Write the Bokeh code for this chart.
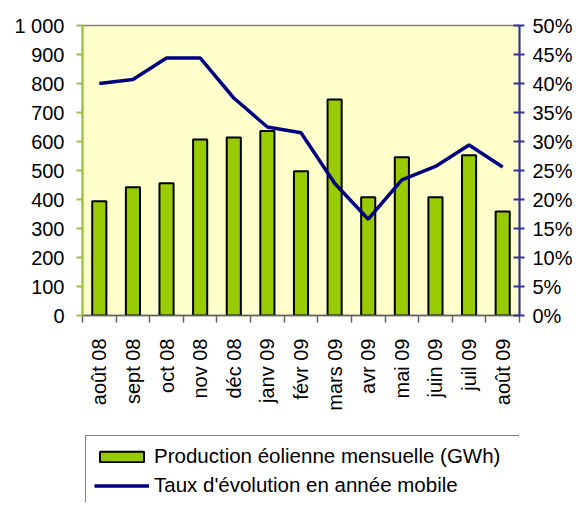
from bokeh.plotting import figure
from bokeh.layouts import column
from bokeh.models import (Range1d, LinearAxis, FixedTicker, PrintfTickFormatter,
                          Legend, LegendItem, ColumnDataSource)
from bokeh.embed import file_html
from bokeh.resources import INLINE
import math

months = ["août 08", "sept 08", "oct 08", "nov 08", "déc 08", "janv 09", "févr 09",
          "mars 09", "avr 09", "mai 09", "juin 09", "juil 09", "août 09"]
production_gwh = [394, 442, 456, 607, 614, 636, 497, 745, 408, 546, 408, 553, 359]
evolution_pct = [40.0, 40.7, 44.4, 44.4, 37.5, 32.5, 31.5, 22.8, 16.6, 23.4, 25.7, 29.4, 25.6]
left_ticks = [0, 100, 200, 300, 400, 500, 600, 700, 800, 900, 1000]
right_ticks = [0, 5, 10, 15, 20, 25, 30, 35, 40, 45, 50]
series_labels = ["Production éolienne mensuelle (GWh)", "Taux d'évolution en année mobile"]

n = len(months)
centers = [i + 0.5 for i in range(n)]
bounds = list(range(n + 1))

src = ColumnDataSource(dict(x=centers, prod=production_gwh, pct=evolution_pct))

FONT = "Liberation Sans"
BAR_FILL = "#99cc00"
LINE_COL = "#000080"

p = figure(width=575, height=425, output_backend="svg", toolbar_location=None,
           x_range=Range1d(0, n), y_range=Range1d(0, 1000),
           min_border_left=82, min_border_right=52, min_border_top=25, min_border_bottom=110,
           x_axis_type=None, y_axis_type=None)
p.background_fill_color = "#ffffcc"
p.border_fill_color = "white"
p.outline_line_color = "#808080"
p.outline_line_width = 1.5

p.extra_y_ranges = {"pct": Range1d(0, 50)}

# bottom axis
xaxis = LinearAxis(ticker=FixedTicker(ticks=centers, minor_ticks=bounds))
xaxis.major_label_overrides = {c: m for c, m in zip(centers, months)}
xaxis.major_label_orientation = math.pi / 2
xaxis.major_tick_out = 0
xaxis.major_tick_in = 0
xaxis.minor_tick_out = 7
xaxis.minor_tick_in = 0
xaxis.minor_tick_line_color = "#606060"
xaxis.minor_tick_line_width = 1.5
xaxis.axis_line_color = "#606060"
xaxis.axis_line_width = 1.5
xaxis.major_label_standoff = 16
xaxis.major_label_text_font = FONT
xaxis.major_label_text_font_size = "20px"
xaxis.major_label_text_color = "black"
p.add_layout(xaxis, "below")

# left axis
yaxis = LinearAxis(ticker=FixedTicker(ticks=left_ticks, minor_ticks=[]))
yaxis.major_label_overrides = {1000: "1 000"}
yaxis.axis_line_color = "#9dc040"
yaxis.axis_line_width = 2
yaxis.major_tick_line_color = "#9dc040"
yaxis.major_tick_line_width = 2
yaxis.major_tick_out = 6
yaxis.major_tick_in = 0
yaxis.minor_tick_out = 0
yaxis.major_label_standoff = 12
yaxis.major_label_text_font = FONT
yaxis.major_label_text_font_size = "20px"
yaxis.major_label_text_color = "black"
p.add_layout(yaxis, "left")

# right axis
raxis = LinearAxis(y_range_name="pct", ticker=FixedTicker(ticks=right_ticks, minor_ticks=[]),
                   formatter=PrintfTickFormatter(format="%d%%"))
raxis.axis_line_color = "#333399"
raxis.axis_line_width = 2
raxis.major_tick_line_color = "#333399"
raxis.major_tick_line_width = 2
raxis.major_tick_out = 5
raxis.major_tick_in = 6
raxis.minor_tick_out = 0
raxis.major_label_standoff = 8
raxis.major_label_text_font = FONT
raxis.major_label_text_font_size = "20px"
raxis.major_label_text_color = "black"
p.add_layout(raxis, "right")

# grids
p.xgrid.ticker = FixedTicker(ticks=bounds)
p.ygrid.ticker = FixedTicker(ticks=left_ticks)
for g in (p.xgrid, p.ygrid):
    g.grid_line_color = "#a8a8a0"
    g.grid_line_width = 1.2

p.vbar(x="x", top="prod", width=0.42, bottom=0, source=src,
       fill_color=BAR_FILL, line_color="black", line_width=2)
p.line(x="x", y="pct", source=src, y_range_name="pct",
       line_color=LINE_COL, line_width=3.5)

# legend strip below the chart; its proxy renderers share the data but are
# squeezed into the area that the opaque legend box covers.
q = figure(width=575, height=77, output_backend="svg", toolbar_location=None,
           x_axis_type=None, y_axis_type=None,
           x_range=Range1d(-1, 30), y_range=Range1d(-5000, 5000),
           min_border_left=82, min_border_right=0, min_border_top=7, min_border_bottom=0)
q.outline_line_color = None
q.background_fill_color = "white"
q.border_fill_color = "white"
q.xgrid.visible = False
q.ygrid.visible = False
lb = q.vbar(x="x", top="prod", width=0.42, bottom=0, source=src,
            fill_color=BAR_FILL, line_color="black", line_width=2)
ll = q.line(x="x", y="pct", source=src, line_color=LINE_COL, line_width=3.5)

legend = Legend(items=[LegendItem(label=series_labels[0], renderers=[lb]),
                       LegendItem(label=series_labels[1], renderers=[ll])],
                location="top_left")
legend.label_text_font = FONT
legend.label_text_font_size = "20.5px"
legend.label_text_color = "black"
legend.label_width = 357
legend.glyph_width = 55
legend.glyph_height = 13
legend.label_standoff = 5
legend.padding = 8
legend.spacing = 5
legend.margin = 3
legend.border_line_color = "black"
legend.border_line_width = 1
legend.background_fill_color = "white"
legend.background_fill_alpha = 1
q.add_layout(legend, "center")

layout = column(p, q, spacing=0)
open("out.html", "w").write(file_html(layout, INLINE))
